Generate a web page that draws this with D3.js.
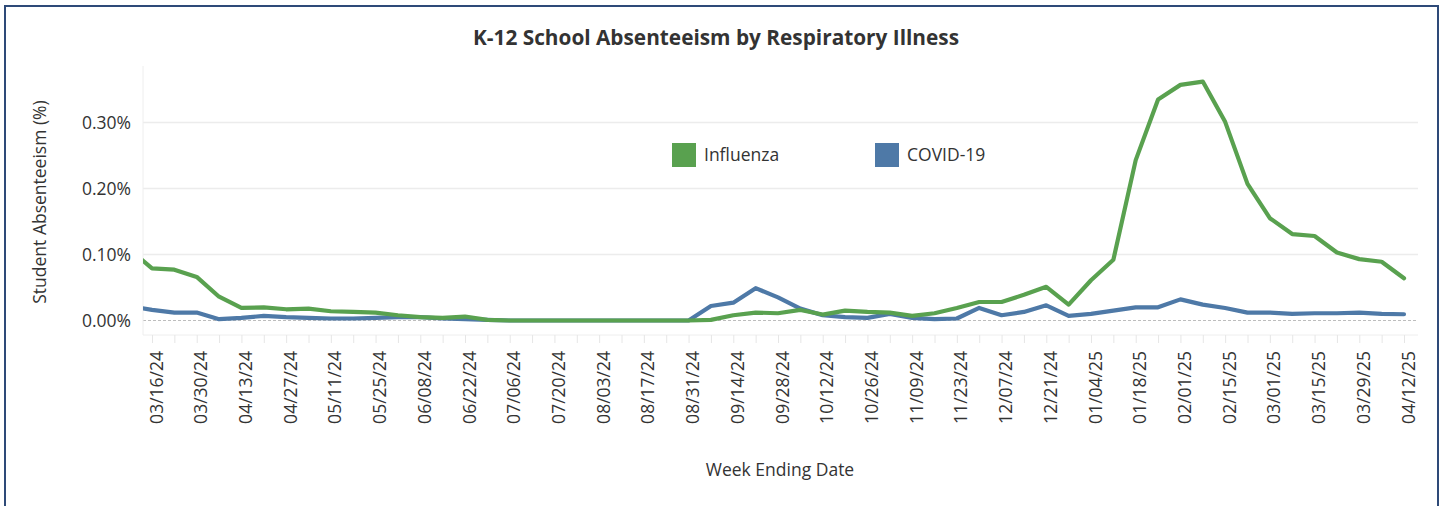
<!DOCTYPE html>
<html>
<head>
<meta charset="utf-8">
<script src="https://cdn.jsdelivr.net/npm/d3@7"></script>
<style>
  body { margin: 0; background: #fff; }
  svg text { font-family: "Open Sans", sans-serif; fill: #333; }
</style>
</head>
<body>
<div id="chart"></div>
<script>
(function () {
    'use strict';
    var w = 1444;
    var h = 506;

    // week ending dates (first one sits just left of the visible plot)
    var weeks = [
        "03/09/24", "03/16/24", "03/23/24", "03/30/24", "04/06/24", "04/13/24", "04/20/24", "04/27/24",
        "05/04/24", "05/11/24", "05/18/24", "05/25/24", "06/01/24", "06/08/24", "06/15/24", "06/22/24",
        "06/29/24", "07/06/24", "07/13/24", "07/20/24", "07/27/24", "08/03/24", "08/10/24", "08/17/24",
        "08/24/24", "08/31/24", "09/07/24", "09/14/24", "09/21/24", "09/28/24", "10/05/24", "10/12/24",
        "10/19/24", "10/26/24", "11/02/24", "11/09/24", "11/16/24", "11/23/24", "11/30/24", "12/07/24",
        "12/14/24", "12/21/24", "12/28/24", "01/04/25", "01/11/25", "01/18/25", "01/25/25", "02/01/25",
        "02/08/25", "02/15/25", "02/22/25", "03/01/25", "03/08/25", "03/15/25", "03/22/25", "03/29/25",
        "04/05/25", "04/12/25"
    ];

    // % of students absent
    var influenza = [
        0.108, 0.079, 0.077, 0.066, 0.036, 0.019, 0.020, 0.017,
        0.018, 0.014, 0.013, 0.012, 0.008, 0.005, 0.004, 0.006,
        0.001, 0, 0, 0, 0, 0, 0, 0,
        0, 0, 0.001, 0.008, 0.012, 0.011, 0.016, 0.009,
        0.015, 0.013, 0.012, 0.007, 0.011, 0.019, 0.028, 0.028,
        0.039, 0.051, 0.024, 0.061, 0.092, 0.243, 0.335, 0.357,
        0.362, 0.301, 0.207, 0.155, 0.131, 0.128, 0.103, 0.093,
        0.089, 0.064
    ];
    var covid = [
        0.022, 0.016, 0.012, 0.012, 0.002, 0.004, 0.007, 0.005,
        0.004, 0.003, 0.003, 0.004, 0.005, 0.005, 0.003, 0.002,
        0.001, 0, 0, 0, 0, 0, 0, 0,
        0, 0, 0.022, 0.027, 0.049, 0.035, 0.018, 0.008,
        0.005, 0.004, 0.010, 0.004, 0.002, 0.003, 0.019, 0.008,
        0.013, 0.023, 0.007, 0.010, 0.015, 0.020, 0.020, 0.032,
        0.024, 0.019, 0.012, 0.012, 0.010, 0.011, 0.011, 0.012,
        0.010, 0.0095
    ];
    var yTicks = [0, 0.1, 0.2, 0.3];

    var seriesNames = ["Influenza", "COVID-19"];
    var colors = { "Influenza": "#59a14f", "COVID-19": "#4e79a7" };

    var parse = d3.timeParse("%m/%d/%y");
    var dates = weeks.map(parse);

    var plot = { left: 143, right: 1418, top: 66, bottom: 335 };
    var fs = "17.5px";

    var x = d3.scaleTime()
        .domain([dates[1], dates[dates.length - 1]])
        .range([152, 1404]);
    var y = d3.scaleLinear()
        .domain([0, 0.3])
        .range([320.5, 122.5]);

    var svg = d3.select("#chart").append("svg")
        .attr("width", w)
        .attr("height", h);

    // outer frame
    svg.append("rect")
        .attr("x", 5).attr("y", 6)
        .attr("width", 1433).attr("height", 520)
        .attr("fill", "none")
        .attr("stroke", "#2e4a78")
        .attr("stroke-width", 2);

    // title
    svg.append("text")
        .attr("x", 716).attr("y", 45)
        .attr("text-anchor", "middle")
        .attr("font-size", "20.8px")
        .attr("font-weight", "bold")
        .text("K-12 School Absenteeism by Respiratory Illness");

    // gridlines
    svg.append("g").selectAll("line")
        .data(yTicks.filter(function (d) { return d > 0; }))
        .enter().append("line")
        .attr("x1", plot.left).attr("x2", plot.right)
        .attr("y1", function (d) { return y(d); })
        .attr("y2", function (d) { return y(d); })
        .attr("stroke", "#ececec")
        .attr("stroke-width", 1.5);

    // zero line
    svg.append("line")
        .attr("x1", plot.left).attr("x2", plot.right)
        .attr("y1", y(0)).attr("y2", y(0))
        .attr("stroke", "#bdbdbd")
        .attr("stroke-dasharray", "3,2");

    // axis lines
    svg.append("line")
        .attr("x1", plot.left).attr("x2", plot.left)
        .attr("y1", plot.top).attr("y2", plot.bottom)
        .attr("stroke", "#eeeeee");
    svg.append("line")
        .attr("x1", plot.left).attr("x2", plot.right)
        .attr("y1", plot.bottom).attr("y2", plot.bottom)
        .attr("stroke", "#eeeeee");

    // y axis
    var yAxis = d3.axisLeft(y)
        .tickValues(yTicks)
        .tickSize(0)
        .tickPadding(0)
        .tickFormat(function (d) { return d.toFixed(2) + "%"; });
    var gy = svg.append("g")
        .attr("transform", "translate(131,0)")
        .call(yAxis);
    gy.select(".domain").remove();
    gy.selectAll("text")
        .attr("font-size", fs)
        .attr("font-family", "Open Sans, sans-serif")
        .attr("fill", "#333");

    svg.append("text")
        .attr("transform", "translate(46,202) rotate(-90)")
        .attr("text-anchor", "middle")
        .attr("font-size", fs)
        .text("Student Absenteeism (%)");

    // x axis: weekly ticks, labels every other week
    var shown = dates.slice(1);
    var xAxis = d3.axisBottom(x)
        .tickValues(shown)
        .tickSize(8)
        .tickPadding(0)
        .tickFormat(function (d, i) { return i % 2 === 0 ? d3.timeFormat("%m/%d/%y")(d) : ""; });
    var gx = svg.append("g")
        .attr("transform", "translate(0," + plot.bottom + ")")
        .call(xAxis);
    gx.select(".domain").remove();
    gx.selectAll(".tick line").attr("stroke", "#e6e6e6");
    gx.selectAll("text")
        .attr("font-size", fs)
        .attr("font-family", "Open Sans, sans-serif")
        .attr("fill", "#333")
        .attr("text-anchor", "end")
        .attr("transform", "translate(4,0) rotate(-90)")
        .attr("x", -16)
        .attr("y", 0)
        .attr("dy", "0.35em");

    svg.append("text")
        .attr("x", 780).attr("y", 476)
        .attr("text-anchor", "middle")
        .attr("font-size", fs)
        .text("Week Ending Date");

    // lines
    svg.append("clipPath").attr("id", "clip")
        .append("rect")
        .attr("x", plot.left).attr("y", plot.top)
        .attr("width", plot.right - plot.left)
        .attr("height", plot.bottom - plot.top);

    var line = d3.line()
        .x(function (d) { return x(d.date); })
        .y(function (d) { return y(d.value); });

    var series = [
        { name: "COVID-19", values: covid },
        { name: "Influenza", values: influenza }
    ];

    svg.append("g").attr("clip-path", "url(#clip)")
        .selectAll("path")
        .data(series)
        .enter().append("path")
        .attr("d", function (s) {
            return line(s.values.map(function (v, i) { return { date: dates[i], value: v }; }));
        })
        .attr("fill", "none")
        .attr("stroke", function (s) { return colors[s.name]; })
        .attr("stroke-width", 4.2)
        .attr("stroke-linejoin", "round")
        .attr("stroke-linecap", "round");

    // legend
    var legend = svg.append("g").selectAll("g")
        .data(seriesNames)
        .enter().append("g")
        .attr("transform", function (d, i) { return "translate(" + (672 + i * 203) + ",143)"; });
    legend.append("rect")
        .attr("width", 24).attr("height", 24)
        .attr("fill", function (d) { return colors[d]; });
    legend.append("text")
        .attr("x", 32).attr("y", 12)
        .attr("dy", "0.35em")
        .attr("font-size", fs)
        .text(function (d) { return d; });
}());
</script>
</body>
</html>
